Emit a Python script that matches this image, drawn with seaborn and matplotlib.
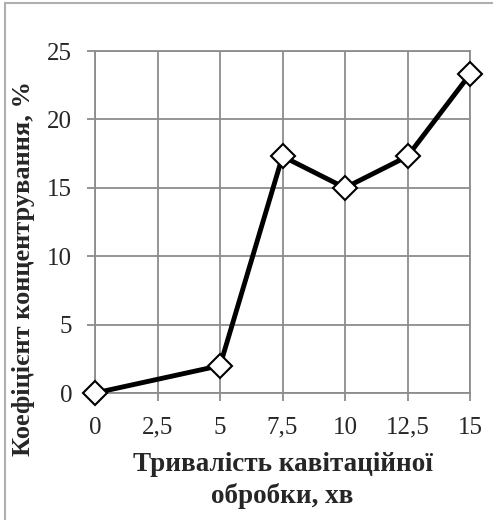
import matplotlib
matplotlib.use("Agg")
from matplotlib import pyplot as plt
from matplotlib.patches import Rectangle
import seaborn as sns
import pandas as pd

# Data
duration = [0, 5, 7.5, 10, 12.5, 15]
concentration = [0, 2, 17.3, 15, 17.3, 23.3]
x_ticks = [0, 2.5, 5, 7.5, 10, 12.5, 15]
x_tick_labels = ["0", "2,5", "5", "7,5", "10", "12,5", "15"]
y_ticks = [0, 5, 10, 15, 20, 25]

df = pd.DataFrame({"duration": duration, "concentration": concentration})

sns.set_style("white")
plt.rcParams["font.family"] = ["Liberation Serif", "DejaVu Serif"]

fig = plt.figure(figsize=(4.93, 5.2), dpi=100)
ax = fig.add_axes([95 / 493, 1 - 393 / 520, 375 / 493, 342 / 520])

grid_color = "#8c8c8c"
sns.lineplot(data=df, x="duration", y="concentration", ax=ax, color="black",
             linewidth=3.5, marker="D", markersize=12, markerfacecolor="white",
             markeredgecolor="black", markeredgewidth=1.5, clip_on=False, zorder=5)

ax.set_xlim(0, 15)
ax.set_ylim(0, 25)
ax.set_xticks(x_ticks)
ax.set_xticklabels(x_tick_labels)
ax.set_yticks(y_ticks)
ax.grid(True, color=grid_color, linewidth=1.3)
for s in ax.spines.values():
    s.set_color(grid_color)
    s.set_linewidth(1.3)
ax.tick_params(axis="both", length=5.5, width=1.3, color=grid_color,
               labelsize=18, direction="out", bottom=True, left=True)
ax.tick_params(axis="x", pad=11.5)
ax.tick_params(axis="y", pad=11)

ax.set_xlabel("Тривалість кавітаційної\nобробки, хв", fontsize=19.5,
              fontweight="bold", linespacing=1.3)
ax.xaxis.set_label_coords(0.5, -0.172)
ax.set_ylabel("Коефіцієнт концентрування, %", fontsize=19,
              fontweight="bold")
ax.yaxis.set_label_coords(-0.16, 0.363)

# Outer frame
fig.patches.append(Rectangle((5 / 493, -0.05), 1.1, 0.05 + 1 - 3 / 520,
                             transform=fig.transFigure, fill=False,
                             edgecolor="#b0b0b0", linewidth=1.5))

plt.savefig("out.png", dpi=100)
